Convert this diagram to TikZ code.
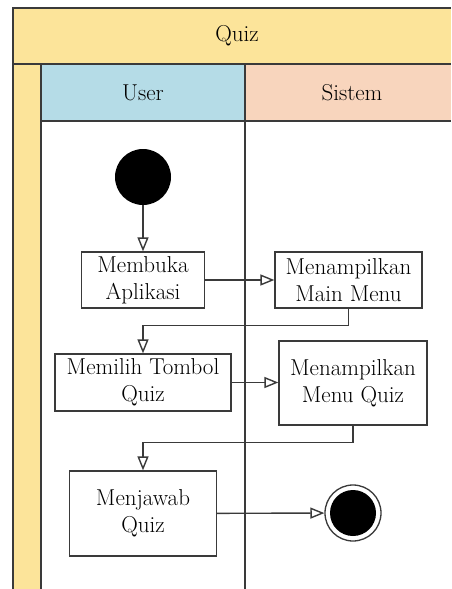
\documentclass[tikz,border=0pt]{standalone}
\usepackage{xcolor}
\definecolor{sand}{HTML}{FCE49A}
\definecolor{sky}{HTML}{B5DCE7}
\definecolor{peach}{HTML}{F8D5BD}
\definecolor{ink}{HTML}{3A3A3A}
\usetikzlibrary{arrows.meta,positioning}
\tikzset{
  >={Triangle[open,length=14pt,width=11pt]},
  frame/.style  ={draw=ink,line width=1.4pt},
  act/.style    ={draw=ink,fill=white,line width=1.3pt,align=center,
                  font=\fontsize{23}{27}\selectfont,inner sep=0pt},
  lane/.style   ={font=\fontsize{23}{27}\selectfont,inner sep=0pt},
  initial/.style={circle,fill=black,minimum size=56pt,inner sep=0pt},
  final/.style  ={circle,draw=ink,fill=white,line width=1.3pt,
                  minimum size=56pt,inner sep=0pt},
  flow/.style   ={->,draw=ink,line width=1.4pt},
}
\begin{document}
\begin{tikzpicture}[x=1pt,y=-1pt]
\useasboundingbox (0,0) rectangle (451,589);
\fill[white] (0,0) rectangle (451,589);
% swimlane frame
\fill[sand] (13,8) rectangle (451,64);
\fill[sand] (13,64) rectangle (41,589);
\fill[sky] (41,64) rectangle (245,121);
\fill[peach] (245,64) rectangle (451,121);
\draw[frame] (13,589) -- (13,8) -- (451,8);
\draw[frame] (13,64) -- (451,64);
\draw[frame] (41,121) -- (451,121);
\draw[frame] (41,64) -- (41,589);
\draw[frame] (245,64) -- (245,589);
\node[lane] (quiz) at (237,36) {Quiz};
\node[lane] (user) at (143,93) {User};
\node[lane] (sistem) at (352,93) {Sistem};
% activities
\node[initial] (start) at (143,177) {};
\node[act,minimum width=123pt,minimum height=56pt] (buka) at (143,280) {Membuka\\Aplikasi};
\node[act,minimum width=147pt,minimum height=56pt] (mainmenu) at (348.5,280) {Menampilkan\\Main Menu};
\node[act,minimum width=176pt,minimum height=57pt] (pilih) at (143,382.5) {Memilih Tombol\\Quiz};
\node[act,minimum width=148pt,minimum height=84pt] (menuquiz) at (353,383) {Menampilkan\\Menu Quiz};
\node[act,minimum width=147pt,minimum height=85pt] (jawab) at (143,513.5) {Menjawab\\Quiz};
\node[final] (end) at (353,513) {};
\fill (end) circle (23pt);
\draw[flow] (start) -- (buka);
\draw[flow] (buka) -- (mainmenu);
\draw[flow] (mainmenu.south) -- ++(0,17) -| (pilih.north);
\draw[flow] (pilih) -- (pilih -| menuquiz.west);
\draw[flow] (menuquiz.south) -- ++(0,17) -| (jawab.north);
\draw[flow] (jawab) -- (end);
\end{tikzpicture}
\end{document}
